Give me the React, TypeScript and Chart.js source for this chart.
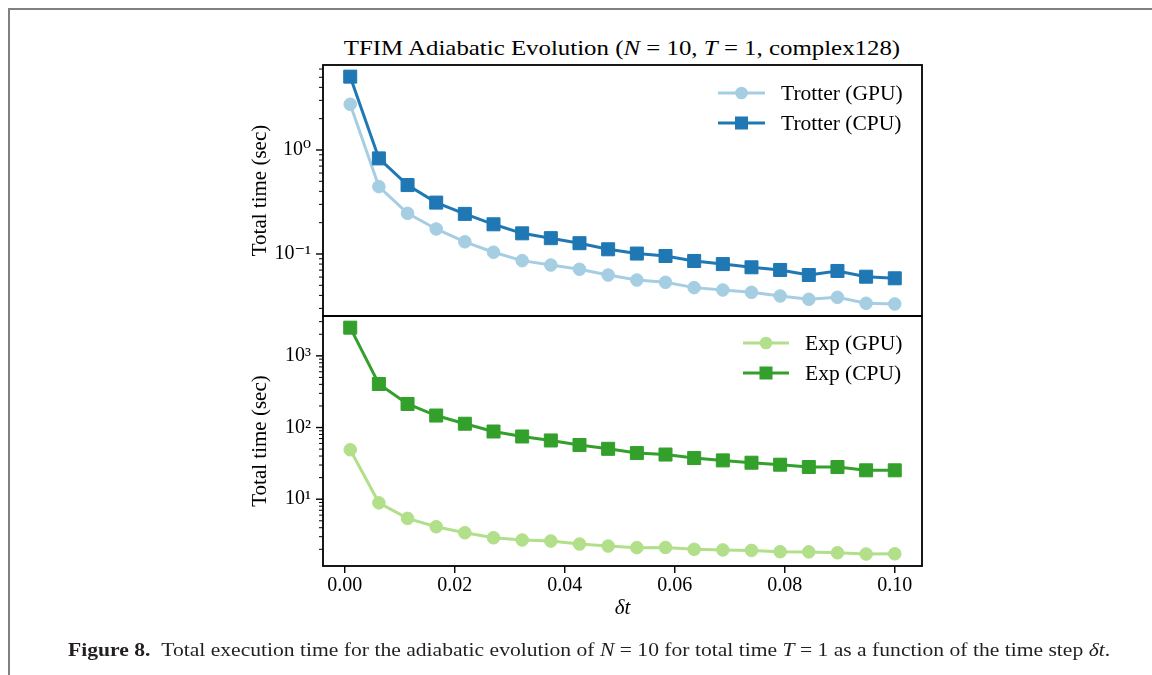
import React, { useEffect, useRef } from 'react';
import { Chart, registerables } from 'chart.js';
Chart.register(...registerables);

// time steps (np.linspace(0.001, 0.1, 20))
const dt = [0.001, 0.00621, 0.01142, 0.01663, 0.02184, 0.02705, 0.03226, 0.03747, 0.04268, 0.04789,
  0.05311, 0.05832, 0.06353, 0.06874, 0.07395, 0.07916, 0.08437, 0.08958, 0.09479, 0.1];

const trotterGPU = [2.75, 0.444, 0.246, 0.174, 0.131, 0.104, 0.0863, 0.0784, 0.0713, 0.0628,
  0.0562, 0.0534, 0.0475, 0.0451, 0.0428, 0.0395, 0.0367, 0.0383, 0.0336, 0.0331];
const trotterCPU = [5.07, 0.83, 0.46, 0.312, 0.243, 0.193, 0.158, 0.142, 0.127, 0.111,
  0.101, 0.0957, 0.0857, 0.080, 0.0745, 0.0702, 0.0628, 0.0687, 0.0605, 0.0584];
const expGPU = [49, 8.9, 5.4, 4.13, 3.41, 2.9, 2.7, 2.61, 2.37, 2.22,
  2.11, 2.12, 2.0, 1.96, 1.93, 1.85, 1.84, 1.79, 1.72, 1.73];
const expCPU = [2473, 405, 213, 147, 113, 88, 75, 66, 57, 50.5,
  44, 42, 37.5, 34.8, 32.3, 30.3, 28.1, 28.1, 25.3, 25.3];

const xTickValues = [0, 0.02, 0.04, 0.06, 0.08, 0.1];
const labelsTop = ['Trotter (GPU)', 'Trotter (CPU)'];
const labelsBottom = ['Exp (GPU)', 'Exp (CPU)'];

const X_MIN = -0.00395;
const X_MAX = 0.10495;
const TOP_MIN = 0.02535;
const TOP_MAX = 6.56;
const BOT_MIN = 1.17;
const BOT_MAX = 3597;

const FONT = '"Liberation Serif", "DejaVu Serif", serif';
const SUP: Record<string, string> = { '0': '⁰', '1': '¹', '2': '²', '3': '³', '4': '⁴', '-': '⁻' };

function isPow10(v: number) {
  const e = Math.round(Math.log10(v));
  return Math.abs(v / Math.pow(10, e) - 1) < 1e-6;
}

function logTicks(scale: any) {
  const min = scale.min, max = scale.max;
  const out: any[] = [];
  for (let e = Math.floor(Math.log10(min)); e <= Math.ceil(Math.log10(max)); e++) {
    for (let m = 1; m <= 9; m++) {
      const v = parseFloat((m * Math.pow(10, e)).toPrecision(6));
      if (v >= min && v <= max) out.push({ value: v });
    }
  }
  scale.ticks = out;
}

function series(ys: number[]) {
  return dt.map((x, i) => ({ x, y: ys[i] }));
}

function ds(label: string, ys: number[], color: string, style: string, order: number) {
  return {
    label,
    data: series(ys),
    borderColor: color,
    backgroundColor: color,
    pointBackgroundColor: color,
    pointBorderColor: color,
    pointBorderWidth: 1,
    pointStyle: style,
    pointRadius: style === 'rect' ? 9.2 : 6.3,
    borderWidth: 3,
    tension: 0,
    order,
    clip: false,
  };
}

function framePlugin(drawX: boolean) {
  return {
    id: 'frameTicks',
    afterDraw(chart: any) {
      const { ctx, chartArea: a } = chart;
      const ys = chart.scales.y;
      ctx.save();
      ctx.strokeStyle = '#000';
      ys.ticks.forEach((t: any) => {
        const p = ys.getPixelForValue(t.value);
        if (p < a.top - 0.5 || p > a.bottom + 0.5) return;
        const maj = isPow10(t.value);
        ctx.lineWidth = maj ? 1.4 : 1;
        const len = maj ? 7 : 4;
        ctx.beginPath();
        ctx.moveTo(a.left - len, p);
        ctx.lineTo(a.left, p);
        ctx.stroke();
      });
      if (drawX) {
        const xs = chart.scales.x;
        ctx.lineWidth = 1.4;
        xs.ticks.forEach((t: any) => {
          const p = xs.getPixelForValue(t.value);
          ctx.beginPath();
          ctx.moveTo(p, a.bottom);
          ctx.lineTo(p, a.bottom + 7);
          ctx.stroke();
        });
      }
      ctx.lineWidth = 1.8;
      ctx.strokeRect(a.left, a.top, a.right - a.left, a.bottom - a.top);
      ctx.restore();
    },
  };
}

function legendPlugin(spec: { x1: number; x2: number; tx: number; y0: number; dy: number }) {
  return {
    id: 'panelLegend',
    afterDraw(chart: any) {
      const ctx = chart.ctx;
      chart.data.datasets.forEach((d: any, i: number) => {
        const y = spec.y0 + i * spec.dy;
        ctx.save();
        ctx.strokeStyle = d.borderColor;
        ctx.lineWidth = 3;
        ctx.beginPath();
        ctx.moveTo(spec.x1, y);
        ctx.lineTo(spec.x2, y);
        ctx.stroke();
        ctx.fillStyle = d.borderColor;
        const cx = (spec.x1 + spec.x2) / 2;
        if (d.pointStyle === 'rect') {
          ctx.fillRect(cx - 6.5, y - 6.5, 13, 13);
        } else {
          ctx.beginPath();
          ctx.arc(cx, y, 6.3, 0, Math.PI * 2);
          ctx.fill();
        }
        ctx.fillStyle = '#000';
        ctx.font = `21.5px ${FONT}`;
        ctx.textBaseline = 'middle';
        ctx.textAlign = 'left';
        ctx.fillText(d.label, spec.tx, y + 1);
        ctx.restore();
      });
    },
  };
}

function yScale(min: number, max: number) {
  return {
    type: 'logarithmic',
    min,
    max,
    afterFit: (s: any) => { s.width = 75; },
    afterBuildTicks: logTicks,
    grid: { display: false, drawTicks: false },
    border: { display: false },
    ticks: {
      autoSkip: false,
      padding: 12,
      color: '#000',
      font: { family: FONT, size: 20 },
      callback: (v: any) => {
        const n = Number(v);
        if (!isPow10(n)) return '';
        const e = String(Math.round(Math.log10(n)));
        return '10' + e.split('').map((c) => SUP[c]).join('');
      },
    },
    title: {
      display: true,
      text: 'Total time (sec)',
      color: '#000',
      font: { family: FONT, size: 21 },
      padding: 0,
    },
  };
}

export default function App() {
  const topRef = useRef<HTMLCanvasElement>(null);
  const botRef = useRef<HTMLCanvasElement>(null);

  useEffect(() => {
    const top = new Chart(topRef.current as HTMLCanvasElement, {
      type: 'line',
      data: {
        datasets: [
          ds(labelsTop[0], trotterGPU, '#a6cee3', 'circle', 1),
          ds(labelsTop[1], trotterCPU, '#1f78b4', 'rect', 0),
        ] as any,
      },
      options: {
        responsive: false,
        animation: false,
        devicePixelRatio: 1,
        layout: { padding: { left: 248, right: 230, top: 65, bottom: 359 } },
        scales: {
          x: { type: 'linear', display: false, min: X_MIN, max: X_MAX },
          y: yScale(TOP_MIN, TOP_MAX) as any,
        },
        plugins: { legend: { display: false }, tooltip: { enabled: false } },
      } as any,
      plugins: [framePlugin(false), legendPlugin({ x1: 718, x2: 765, tx: 781, y0: 93, dy: 30 })],
    });

    const bot = new Chart(botRef.current as HTMLCanvasElement, {
      type: 'line',
      data: {
        datasets: [
          ds(labelsBottom[0], expGPU, '#b2df8a', 'circle', 1),
          ds(labelsBottom[1], expCPU, '#33a02c', 'rect', 0),
        ] as any,
      },
      options: {
        responsive: false,
        animation: false,
        devicePixelRatio: 1,
        layout: { padding: { left: 248, right: 230, top: 316, bottom: 54 } },
        scales: {
          x: {
            type: 'linear',
            min: X_MIN,
            max: X_MAX,
            afterFit: (s: any) => { s.height = 55; },
            afterBuildTicks: (s: any) => { s.ticks = xTickValues.map((v) => ({ value: v })); },
            grid: { display: false, drawTicks: false },
            border: { display: false },
            ticks: {
              autoSkip: false,
              maxRotation: 0,
              padding: 8,
              color: '#000',
              font: { family: FONT, size: 20 },
              callback: (v: any) => Number(v).toFixed(2),
            },
            title: {
              display: true,
              text: 'δt',
              color: '#000',
              font: { family: FONT, size: 21, style: 'italic' },
              padding: 0,
            },
          },
          y: yScale(BOT_MIN, BOT_MAX) as any,
        },
        plugins: { legend: { display: false }, tooltip: { enabled: false } },
      } as any,
      plugins: [framePlugin(true), legendPlugin({ x1: 743, x2: 789, tx: 805, y0: 343, dy: 30 })],
    });

    return () => {
      top.destroy();
      bot.destroy();
    };
  }, []);

  return (
    <div style={{ position: 'fixed', left: 0, top: 0, width: 1152, height: 675, background: '#fff', overflow: 'hidden', fontFamily: FONT }}>
      <div style={{ position: 'absolute', left: 8, top: 8, width: 1144, height: 2, background: '#808080' }} />
      <div style={{ position: 'absolute', left: 8, top: 8, width: 2, height: 667, background: '#808080' }} />
      <div style={{ position: 'absolute', left: 0, top: 36.5, width: 1244, textAlign: 'center', fontSize: 22, lineHeight: '22px', color: '#000', whiteSpace: 'nowrap', transform: 'scaleX(1.13)', transformOrigin: '622px 0' }}>
        TFIM Adiabatic Evolution (<i>N</i> = 10, <i>T</i> = 1, complex128)
      </div>
      <canvas ref={topRef} width={1152} height={675} style={{ position: 'absolute', left: 0, top: 0 }} />
      <canvas ref={botRef} width={1152} height={675} style={{ position: 'absolute', left: 0, top: 0 }} />
      <div style={{ position: 'absolute', left: 68, top: 641, fontSize: 18, lineHeight: '18px', color: '#231f20', whiteSpace: 'nowrap', transform: 'scaleX(1.2)', transformOrigin: '0 0' }}>
        <b>Figure 8.</b>&nbsp;&nbsp;Total execution time for the adiabatic evolution of <i>N</i> = 10 for total time <i>T</i> = 1 as a function of the time step <i>δt</i>.
      </div>
    </div>
  );
}
